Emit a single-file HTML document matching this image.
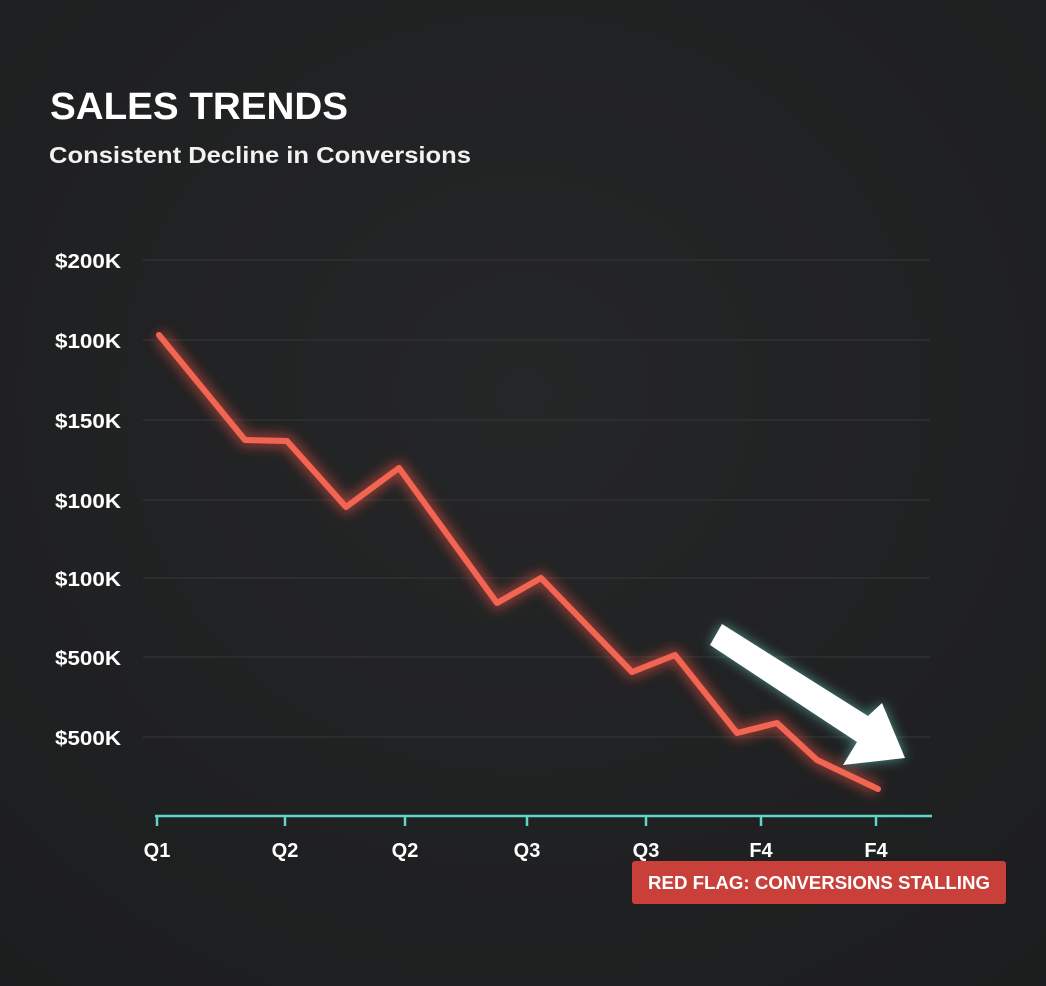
<!DOCTYPE html>
<html><head><meta charset="utf-8"><style>
html,body{margin:0;padding:0;background:#212223;}
</style></head><body>
<svg width="1046" height="986" xmlns="http://www.w3.org/2000/svg" style="display:block;font-family:'Liberation Sans',sans-serif">
<defs>
<filter id="g" x="-20%" y="-20%" width="140%" height="140%"><feGaussianBlur stdDeviation="6"/></filter>
<radialGradient id="bg" cx="0.5" cy="0.4" r="0.8"><stop offset="0" stop-color="#252627"/><stop offset="1" stop-color="#1c1d1e"/></radialGradient>
</defs>
<rect width="1046" height="986" fill="url(#bg)"/>
<text x="50" y="119" fill="#fff" font-size="38" font-weight="bold" textLength="298" lengthAdjust="spacingAndGlyphs">SALES TRENDS</text>
<text x="49" y="163" fill="#f2f2f2" font-size="23" font-weight="bold" textLength="422" lengthAdjust="spacingAndGlyphs">Consistent Decline in Conversions</text>
<g stroke="#2e3133" stroke-width="1.5">
<line x1="143" y1="260" x2="930" y2="260"/><line x1="143" y1="340" x2="930" y2="340"/>
<line x1="143" y1="420" x2="930" y2="420"/><line x1="143" y1="500" x2="930" y2="500"/>
<line x1="143" y1="578" x2="930" y2="578"/><line x1="143" y1="657" x2="930" y2="657"/>
<line x1="143" y1="737" x2="930" y2="737"/>
</g>
<g fill="#fff" font-size="20" font-weight="bold">
<text x="55" y="268" textLength="66" lengthAdjust="spacingAndGlyphs">$200K</text><text x="55" y="348" textLength="66" lengthAdjust="spacingAndGlyphs">$100K</text><text x="55" y="428" textLength="66" lengthAdjust="spacingAndGlyphs">$150K</text>
<text x="55" y="508" textLength="66" lengthAdjust="spacingAndGlyphs">$100K</text><text x="55" y="586" textLength="66" lengthAdjust="spacingAndGlyphs">$100K</text><text x="55" y="665" textLength="66" lengthAdjust="spacingAndGlyphs">$500K</text>
<text x="55" y="745" textLength="66" lengthAdjust="spacingAndGlyphs">$500K</text>
</g>
<polyline points="159,335 245,440 287,441 346,507 399,468 497,603 541,578 632,672 675,655 737,733 777,723 817,760 878,789" fill="none" stroke="#e8503f" stroke-width="12" stroke-opacity="0.6" filter="url(#g)" stroke-linejoin="round"/>
<polyline points="159,335 245,440 287,441 346,507 399,468 497,603 541,578 632,672 675,655 737,733 777,723 817,760 878,789" fill="none" stroke="#f26552" stroke-width="6" stroke-linejoin="round" stroke-linecap="round"/>
<g>
<polygon points="710,645 722,624 868,716 882,703 905,758 843,765 857,742" fill="#6fe0cf" opacity="0.6" filter="url(#g)"/>
<polygon points="710,645 722,624 868,716 882,703 905,758 843,765 857,742" fill="#fff"/>
</g>
<line x1="155" y1="816" x2="932" y2="816" stroke="#5fd6c6" stroke-width="2.5"/>
<g stroke="#5fd6c6" stroke-width="2.5">
<line x1="157" y1="816" x2="157" y2="826"/><line x1="285" y1="816" x2="285" y2="826"/>
<line x1="405" y1="816" x2="405" y2="826"/><line x1="527" y1="816" x2="527" y2="826"/>
<line x1="646" y1="816" x2="646" y2="826"/><line x1="761" y1="816" x2="761" y2="826"/>
<line x1="876" y1="816" x2="876" y2="826"/>
</g>
<g fill="#fff" font-size="20" font-weight="bold" text-anchor="middle">
<text x="157" y="857">Q1</text><text x="285" y="857">Q2</text><text x="405" y="857">Q2</text>
<text x="527" y="857">Q3</text><text x="646" y="857">Q3</text><text x="761" y="857">F4</text><text x="876" y="857">F4</text>
</g>
<rect x="632" y="861" width="374" height="43" rx="3" fill="#c9403a"/>
<text x="819" y="889" fill="#fff" font-size="18" font-weight="bold" text-anchor="middle" textLength="342" lengthAdjust="spacingAndGlyphs">RED FLAG: CONVERSIONS STALLING</text>
</svg>
</body></html>
